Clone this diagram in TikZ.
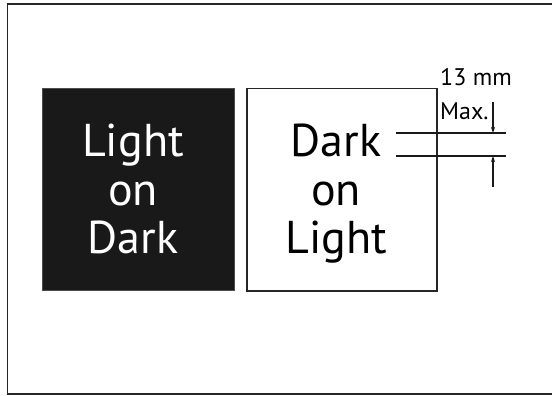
\documentclass[tikz,border=0pt]{standalone}
\usepackage{fontspec}
\setmainfont{PT Sans}
\usetikzlibrary{arrows.meta}
\begin{document}
\begin{tikzpicture}[x=1pt,y=-1pt,
  big/.style={font=\fontsize{46}{48}\selectfont, align=center, inner sep=0pt},
  small/.style={font=\fontsize{24}{26}\selectfont, inner sep=0pt, anchor=base west},
  dimline/.style={line width=1.2pt, draw=black!90},
  dimarrow/.style={line width=1.2pt, draw=black!90, -{Stealth[length=6pt,width=4pt]}}]
\useasboundingbox (0,0) rectangle (552,396);
\draw[line width=1.5pt, draw=black!85] (7.5,4) rectangle (560,394);
\node[fill=black!90, draw=black!70, line width=1pt, minimum width=192pt, minimum height=202pt, anchor=north west, inner sep=0pt] (dark) at (42,88) {};
\node[draw=black!85, line width=1.5pt, minimum width=190pt, minimum height=202pt, anchor=north west, inner sep=0pt, fill=white] (light) at (246,88) {};
\node[big, text=white, anchor=base] (t1) at (133,157) {Light};
\node[big, text=white, anchor=base] (t2) at (133,205) {on};
\node[big, text=white, anchor=base] (t3) at (133,253) {Dark};
\node[big, text=black, anchor=base] (u1) at (336,157) {Dark};
\node[big, text=black, anchor=base] (u2) at (336,205) {on};
\node[big, text=black, anchor=base] (u3) at (336,253) {Light};
\node[small] (mm) at (440,86) {13 mm};
\node[small] (max) at (440,119) {Max.};
\coordinate (la) at (396,133);
\coordinate (lb) at (506,133);
\coordinate (lc) at (396,156);
\coordinate (ld) at (506,156);
\draw[dimline] (la) -- (lb);
\draw[dimline] (lc) -- (ld);
\coordinate (a1) at (493,102);
\coordinate (a1e) at (493,133);
\coordinate (a2) at (493,187);
\coordinate (a2e) at (493,156);
\draw[dimarrow] (a1) -- (a1e);
\draw[dimarrow] (a2) -- (a2e);
\end{tikzpicture}
\end{document}
